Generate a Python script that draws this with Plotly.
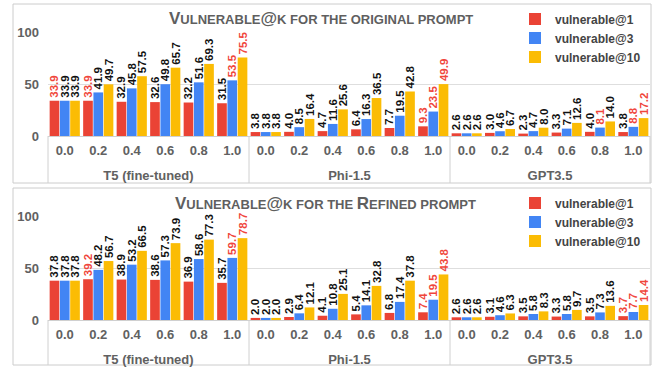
import plotly.graph_objects as go

W, H = 655, 368

models = ["T5 (fine-tuned)", "Phi-1.5", "GPT3.5"]
temps = ["0.0", "0.2", "0.4", "0.6", "0.8", "1.0"]
series_names = ["vulnerable@1", "vulnerable@3", "vulnerable@10"]

# values ordered model by model, temperature 0.0 -> 1.0
orig_v1 = [33.9, 33.9, 32.9, 32.6, 32.2, 31.5, 3.8, 4.0, 4.7, 6.4, 7.7, 9.3, 2.6, 3.0, 2.3, 3.3, 4.0, 3.8]
orig_v3 = [33.9, 41.9, 45.8, 49.8, 51.6, 53.5, 3.8, 8.5, 11.6, 16.3, 19.5, 23.5, 2.6, 4.6, 4.7, 7.1, 8.1, 8.8]
orig_v10 = [33.9, 49.7, 57.5, 65.7, 69.3, 75.5, 3.8, 16.4, 25.6, 36.5, 42.8, 49.9, 2.6, 6.7, 8.0, 12.6, 14.0, 17.2]

ref_v1 = [37.8, 39.2, 38.9, 38.6, 36.9, 35.7, 2.0, 2.9, 4.1, 5.4, 6.8, 7.4, 2.6, 3.1, 3.5, 3.3, 3.5, 3.7]
ref_v3 = [37.8, 48.2, 53.2, 57.3, 58.6, 59.7, 2.0, 6.4, 10.8, 14.1, 17.4, 19.5, 2.6, 4.6, 5.8, 5.8, 7.3, 7.7]
ref_v10 = [37.8, 56.7, 66.5, 73.9, 77.3, 78.7, 2.0, 12.1, 25.1, 32.8, 37.8, 43.8, 2.6, 6.3, 8.3, 9.7, 13.6, 14.4]

# indices of labels highlighted in red
orig_hl = [[0, 1, 11], [5, 11, 16, 17], [5, 11, 17]]
ref_hl = [[1, 11, 17], [5, 11, 17], [5, 11, 17]]

bar_colors = ["#EA4335", "#4285F4", "#FBBC04"]
HL = "#F0463C"
FONT = "Arial, Liberation Sans, sans-serif"
GREY = "#616161"
LINE = "#d0d0d0"


def px_x(p):
    return p / W


def px_y(p):
    return 1 - p / H


fig = go.Figure()
n = len(temps)
group_edges = [48, 249, 450, 650]

# panel definitions: x axis ids, y axis ids (one per model group), y domain in px
panels = [
    dict(xids=[1, 2, 3], yids=[1, 2, 3], dom=(136, 32), frame=(4, 183),
         vals=[orig_v1, orig_v3, orig_v10], hl=orig_hl, legend="legend"),
    dict(xids=[4, 5, 6], yids=[4, 5, 6], dom=(320, 216), frame=(188, 365),
         vals=[ref_v1, ref_v3, ref_v10], hl=ref_hl, legend="legend2"),
]


def ax_ref(letter, i):
    return letter if i == 1 else f"{letter}{i}"


for p in panels:
    for m, model in enumerate(models):
        for i, (vals, name) in enumerate(zip(p["vals"], series_names)):
            v = vals[m * n:(m + 1) * n]
            colors = [HL if (m * n + j) in p["hl"][i] else "#111111" for j in range(n)]
            fig.add_trace(go.Bar(
                x=temps, y=v, name=name,
                xaxis=ax_ref("x", p["xids"][m]), yaxis=ax_ref("y", p["yids"][m]),
                legend=p["legend"], legendgroup=p["legend"] + name, showlegend=(m == 0),
                marker=dict(color=bar_colors[i], line=dict(width=0)),
                texttemplate="%{y:.1f}", textposition="outside", textangle=-90,
                textfont=dict(family=FONT, size=11.5, color=colors, weight="bold"),
                constraintext="none", cliponaxis=False, hoverinfo="skip",
            ))

tickfont = dict(family=FONT, size=13, color=GREY, weight="bold")

layout = dict(
    width=W, height=H, margin=dict(l=0, r=0, t=0, b=0, autoexpand=False),
    paper_bgcolor="white", plot_bgcolor="white",
    barmode="group", bargap=0.08, bargroupgap=0.06,
    showlegend=True,
)

for p in panels:
    first_y = ax_ref("y", p["yids"][0])
    for k in range(3):
        xi, yi = p["xids"][k], p["yids"][k]
        xname = "xaxis" if xi == 1 else f"xaxis{xi}"
        yname = "yaxis" if yi == 1 else f"yaxis{yi}"
        layout[yname] = dict(
            anchor=ax_ref("x", xi),
            domain=[px_y(p["dom"][0]), px_y(p["dom"][1])],
            range=[0, 100], tickvals=[0, 50, 100], showgrid=True, gridcolor="#dedede",
            zeroline=False, showline=False, ticks="", ticklabelstandoff=8,
            tickfont=tickfont, showticklabels=(k == 0),
            **({} if k == 0 else {"matches": first_y}),
        )
        layout[xname] = dict(
            anchor=ax_ref("y", yi), type="category",
            domain=[px_x(group_edges[k]), px_x(group_edges[k + 1])],
            showgrid=False, showline=True, linecolor=LINE, linewidth=1,
            ticks="", ticklabelstandoff=2, tickfont=tickfont,
            title=dict(text=models[k], font=tickfont, standoff=14),
            automargin=False,
        )

legend_common = dict(
    font=dict(family=FONT, size=12, color="#444444", weight="bold"),
    bgcolor="rgba(255,255,255,0.95)", xanchor="left", yanchor="top", itemwidth=30,
    traceorder="normal", itemclick=False, itemdoubleclick=False,
)
layout["legend"] = dict(x=px_x(515), y=px_y(4.5), **legend_common)
layout["legend2"] = dict(x=px_x(515), y=px_y(188.5), **legend_common)
fig.update_layout(**layout)

# panel frames and group dividers
for p in panels:
    top, bot = p["frame"]
    axis_y = p["dom"][0]
    fig.add_shape(type="rect", xref="paper", yref="paper",
                  x0=px_x(13), x1=px_x(651), y0=px_y(bot), y1=px_y(top),
                  line=dict(color="#cccccc", width=1), fillcolor="rgba(0,0,0,0)", layer="below")
    for xe in group_edges:
        fig.add_shape(type="line", xref="paper", yref="paper",
                      x0=px_x(xe), x1=px_x(xe), y0=px_y(axis_y), y1=px_y(bot),
                      line=dict(color=LINE, width=1))

SC = "font-size:13px"
fig.add_annotation(xref="paper", yref="paper", x=px_x(321), y=px_y(18),
                   text=(f"<b>V<span style='{SC}'>ULNERABLE</span>@"
                         f"<span style='{SC}'>K FOR THE ORIGINAL PROMPT</span></b>"),
                   showarrow=False, font=dict(family=FONT, size=17, color="#5f5f5f"),
                   xanchor="center", yanchor="middle")
fig.add_annotation(xref="paper", yref="paper", x=px_x(325), y=px_y(203.5),
                   text=(f"<b>V<span style='{SC}'>ULNERABLE</span>@"
                         f"<span style='{SC}'>K FOR THE </span>R"
                         f"<span style='{SC}'>EFINED PROMPT</span></b>"),
                   showarrow=False, font=dict(family=FONT, size=17, color="#5f5f5f"),
                   xanchor="center", yanchor="middle")

fig.write_html("out.html", config={"displayModeBar": False},
               post_script="document.body.style.margin='0';")
